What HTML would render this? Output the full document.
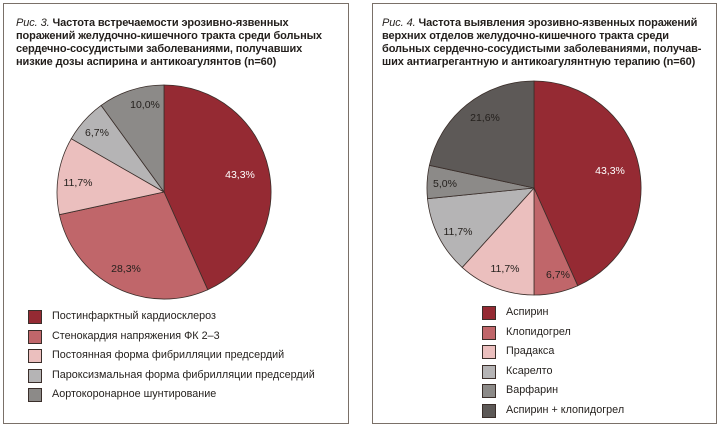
<!DOCTYPE html>
<html><head><meta charset="utf-8"><style>
body{margin:0;width:720px;height:427px;background:#fff;font-family:"Liberation Sans",sans-serif;overflow:hidden;position:relative}
.box{position:absolute;border:1.5px solid #7a7068;box-sizing:border-box}
.t{position:absolute;font-size:11px;line-height:13px;font-weight:bold;color:#231f1c;white-space:nowrap;letter-spacing:-0.1px}
.t i{font-weight:normal}
.lg{position:absolute;font-size:10.8px;color:#231f1c;white-space:nowrap}
.lg div{position:relative;height:19.5px;line-height:19.5px;padding-left:24px}
.lg span{position:absolute;left:0;top:3px;width:12px;height:12px;border:1px solid #3a2e2a}
</style></head><body>
<div class="box" style="left:3px;top:3px;width:346px;height:421px"></div>
<div class="box" style="left:372px;top:3px;width:345px;height:421px"></div>
<div class="t" style="left:16px;top:17px"><i>Рис. 3.</i> Частота встречаемости эрозивно-язвенных<br>поражений желудочно-кишечного тракта среди больных<br>сердечно-сосудистыми заболеваниями, получавших<br>низкие дозы аспирина и антикоагулянтов (n=60)</div>
<div class="t" style="left:382px;top:17px"><i>Рис. 4.</i> Частота выявления эрозивно-язвенных поражений<br>верхних отделов желудочно-кишечного тракта среди<br>больных сердечно-сосудистыми заболеваниями, получав-<br>ших антиагрегантную и антикоагулянтную терапию (n=60)</div>
<svg width="720" height="427" style="position:absolute;left:0;top:0" font-family="Liberation Sans, sans-serif" font-size="10.5">
<g stroke="#3a2e2a" stroke-width="0.8">
<path d="M164,192 L164,85 A107,107 0 0 1 207.7,289.7Z" fill="#952a33"/>
<path d="M164,192 L207.7,289.7 A107,107 0 0 1 59.4,214.7Z" fill="#c0666a"/>
<path d="M164,192 L59.4,214.7 A107,107 0 0 1 71.3,138.7Z" fill="#ebbfbe"/>
<path d="M164,192 L71.3,138.7 A107,107 0 0 1 101.1,105.4Z" fill="#b5b4b5"/>
<path d="M164,192 L101.1,105.4 A107,107 0 0 1 164,85Z" fill="#8c8a88"/>
<path d="M534,188 L534,81 A107,107 0 0 1 577.7,285.7Z" fill="#952a33"/>
<path d="M534,188 L577.7,285.7 A107,107 0 0 1 534,295Z" fill="#c0666a"/>
<path d="M534,188 L534,295 A107,107 0 0 1 462.2,267.4Z" fill="#ebbfbe"/>
<path d="M534,188 L462.2,267.4 A107,107 0 0 1 427.5,198.7Z" fill="#b5b4b5"/>
<path d="M534,188 L427.5,198.7 A107,107 0 0 1 429.4,165.3Z" fill="#8c8a88"/>
<path d="M534,188 L429.4,165.3 A107,107 0 0 1 534,81Z" fill="#5d5957"/>
</g>
<g text-anchor="middle" fill="#231f1c">
<text x="240" y="178" fill="#fff">43,3%</text>
<text x="126" y="272">28,3%</text>
<text x="78" y="186">11,7%</text>
<text x="97" y="136">6,7%</text>
<text x="145" y="108">10,0%</text>
<text x="610" y="174" fill="#fff">43,3%</text>
<text x="558" y="278">6,7%</text>
<text x="505" y="272">11,7%</text>
<text x="458" y="235">11,7%</text>
<text x="445" y="187">5,0%</text>
<text x="485" y="121">21,6%</text>
</g>
</svg>
<div class="lg" style="left:28px;top:307px">
<div><span style="background:#952a33"></span>Постинфарктный кардиосклероз</div>
<div><span style="background:#c0666a"></span>Стенокардия напряжения ФК 2–3</div>
<div><span style="background:#ebbfbe"></span>Постоянная форма фибрилляции предсердий</div>
<div><span style="background:#b5b4b5"></span>Пароксизмальная форма фибрилляции предсердий</div>
<div><span style="background:#8c8a88"></span>Аортокоронарное шунтирование</div>
</div>
<div class="lg" style="left:482px;top:303px">
<div><span style="background:#952a33"></span>Аспирин</div>
<div><span style="background:#c0666a"></span>Клопидогрел</div>
<div><span style="background:#ebbfbe"></span>Прадакса</div>
<div><span style="background:#b5b4b5"></span>Ксарелто</div>
<div><span style="background:#8c8a88"></span>Варфарин</div>
<div><span style="background:#5d5957"></span>Аспирин + клопидогрел</div>
</div>
</body></html>
